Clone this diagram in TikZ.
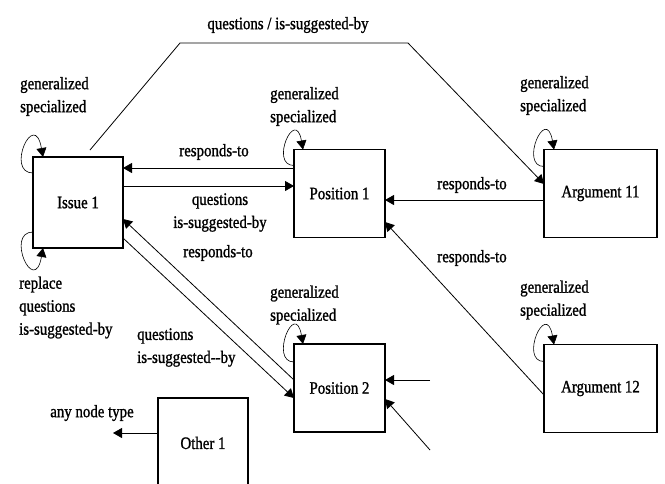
\documentclass[tikz,border=0pt]{standalone}
\usepackage{fontspec}
\setmainfont{Liberation Serif}[FakeStretch=0.85, FakeBold=1.2]
\usetikzlibrary{arrows.meta}

\begin{document}
\begin{tikzpicture}[
       x=1pt, y=-1pt,
       font=\fontsize{17.5}{23}\selectfont,
   BoxStyle/.style={draw, line width=1.1pt, inner sep=0pt, outer sep=0pt,
                    minimum width=91pt, minimum height=88pt},
   Arr/.style={line width=0.8pt, -{Triangle[length=9pt, width=10pt]}},
   Lbl/.style={inner sep=0pt, align=left},
  ]
\path[use as bounding box, clip] (0,0) rectangle (665,483);
% boxes
\node [BoxStyle, minimum width=90pt, minimum height=91pt] (issue1) at (78,202.5) {Issue 1};
  \node [BoxStyle] (pos1) at (339.5,193.5) {Position 1};
  \node [BoxStyle] (pos2) at (339.5,388) {Position 2};
  \node [BoxStyle, minimum width=113pt] (arg11) at (600.5,193.5) {Argument 11};
  \node [BoxStyle, minimum width=113pt] (arg12) at (600.5,388.5) {Argument 12};
  \node [BoxStyle, minimum width=90pt, minimum height=90pt] (other1) at (203,443) {Other 1};
% labels
\node [Lbl, anchor=west] (genIssue) at (20,96.5) {generalized\\specialized};
  \node [Lbl, anchor=west] (replIssue) at (19,307.5) {replace\\questions\\is-suggested-by};
  \node [Lbl] (topLbl) at (288,25) {questions / is-suggested-by};
  \node [Lbl] (rt1) at (214,152) {responds-to};
  \node [Lbl, align=center] (qs1) at (220,212.5) {questions\\is-suggested-by};
  \node [Lbl] (rt2) at (218,253) {responds-to};
  \node [Lbl, anchor=west] (qs2) at (137,347.5) {questions\\is-suggested-{}-by};
  \node [Lbl, anchor=west] (genPos1) at (270,106.5) {generalized\\specialized};
  \node [Lbl, anchor=west] (genPos2) at (270,305) {generalized\\specialized};
  \node [Lbl, anchor=west] (genArg11) at (520,95.5) {generalized\\specialized};
  \node [Lbl, anchor=west] (genArg12) at (520,300) {generalized\\specialized};
  \node [Lbl] (rt3) at (472,185) {responds-to};
  \node [Lbl] (rt4) at (472,258) {responds-to};
  \node [Lbl] (anyLbl) at (92,413) {any node type};
% free ends and bends
\coordinate (bendA) at (180,43);
  \coordinate (bendB) at (408,43);
  \coordinate (in1) at (430,380);
  \coordinate (in2) at (430,450);
  \coordinate (anyEnd) at (113,433);
% connectors
\begin{scope}[Arr]
  \draw ([shift={(12pt,7pt)}]issue1.north) -- (bendA) -- (bendB) -- ([yshift=9.5pt]arg11.west);
  \draw ([yshift=25.5pt]pos1.west) -- ([yshift=34.5pt]issue1.east);
  \draw ([yshift=16.5pt]issue1.east) -- ([yshift=7.5pt]pos1.west);
  \draw ([yshift=8pt]pos2.west) -- ([yshift=-16.5pt]issue1.east);
  \draw ([yshift=-35.5pt]issue1.east) -- ([yshift=-10pt]pos2.west);
  \draw ([yshift=-6.5pt]arg11.west) -- ([yshift=-6.5pt]pos1.east);
  \draw ([yshift=-6.5pt]arg12.west) -- ([yshift=-28.5pt]pos1.east);
  \draw (in1) -- ([yshift=8pt]pos2.east);
  \draw (in2) -- ([yshift=-11pt]pos2.east);
  \draw ([yshift=10pt]other1.west) -- (anyEnd);
\end{scope}
% self loops
\begin{scope}[Arr, line width=0.6pt]
  \draw ([yshift=-16pt]issue1.north west) .. controls +(180:28pt) and +(100:50pt) .. ([xshift=10pt]issue1.north west);
  \draw ([yshift=16pt]issue1.south west) .. controls +(180:28pt) and +(-100:50pt) .. ([xshift=10pt]issue1.south west);
  \draw ([yshift=-16pt]pos1.north west) .. controls +(180:25pt) and +(100:44pt) .. ([xshift=9pt]pos1.north west);
  \draw ([yshift=-18pt]pos2.north west) .. controls +(180:25pt) and +(100:46pt) .. ([xshift=9pt]pos2.north west);
  \draw ([yshift=-17pt]arg11.north west) .. controls +(180:25pt) and +(100:46pt) .. ([xshift=10pt]arg11.north west);
  \draw ([yshift=-17pt]arg12.north west) .. controls +(180:25pt) and +(100:46pt) .. ([xshift=10pt]arg12.north west);
\end{scope}
\end{tikzpicture}
\end{document}
